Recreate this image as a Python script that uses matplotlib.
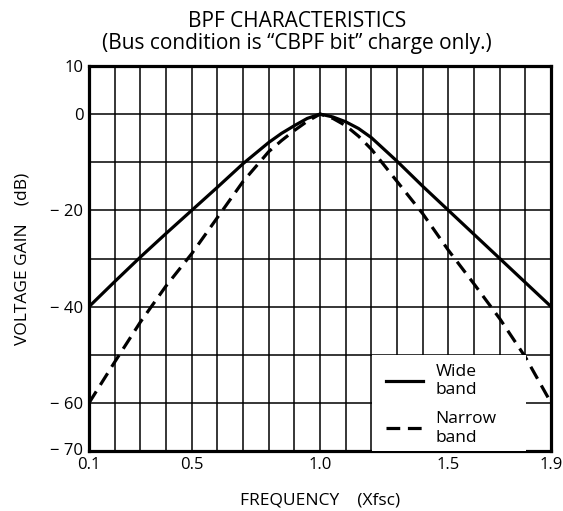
import matplotlib.pyplot as plt
import matplotlib.transforms as mtransforms
from matplotlib.patches import Rectangle

plt.rcParams['font.family'] = ['Open Sans', 'DejaVu Sans']
plt.rcParams['font.weight'] = 'medium'

# frequency (x fsc)
freq = [0.1, 0.2, 0.3, 0.4, 0.5, 0.6, 0.7, 0.8, 0.85, 0.9, 0.95, 1.0,
        1.05, 1.1, 1.15, 1.2, 1.3, 1.4, 1.5, 1.6, 1.7, 1.8, 1.9]
# gain in dB
wide = [-40, -34.8, -29.7, -24.8, -20, -15.2, -10.3, -5.9, -4.0, -2.4, -0.9, 0,
        -0.6, -1.6, -3.0, -4.9, -9.8, -15, -20, -25, -30, -35, -40]
narrow = [-60, -51.5, -43.2, -35.7, -29, -21.5, -14, -7.8, -5.5, -3.4, -1.5, 0,
          -0.9, -2.4, -4.6, -7.3, -14, -20.7, -28.3, -35.3, -42.5, -50.5, -60]

yticks = [10, 0, -20, -40, -60, -70]
ytick_labels = ['10', '0', '\u2212 20', '\u2212 40', '\u2212 60', '\u2212 70']
xticks = [0.1, 0.5, 1.0, 1.5, 1.9]
xtick_labels = ['0.1', '0.5', '1.0', '1.5', '1.9']

fig = plt.figure(figsize=(5.63, 5.11), dpi=100)
ax = fig.add_axes([0.158, 0.117, 0.821, 0.754])

# grid
for i in range(19):
    ax.axvline(0.1 + 0.1 * i, color='black', lw=1.1, zorder=1)
for v in range(-60, 10, 10):
    ax.axhline(v, color='black', lw=1.1, zorder=1)

ax.plot(freq, wide, color='black', lw=2.3, label='Wide\nband', zorder=3)
ax.plot(freq, narrow, color='black', lw=2.3, ls=(0, (4.3, 2.4)), label='Narrow\nband', zorder=3)

ax.set_xlim(0.1, 1.9)
ax.set_ylim(-70, 10)
ax.set_xticks(xticks)
ax.set_xticklabels(xtick_labels)
ax.set_yticks(yticks)
ax.set_yticklabels(ytick_labels)
ax.tick_params(length=0, labelsize=12, pad=4)
# nudge the -70 label up a little, as in the original
lab70 = ax.get_yticklabels()[-1]
lab70.set_transform(lab70.get_transform() + mtransforms.ScaledTranslation(0, 1.5 / 72, fig.dpi_scale_trans))
for s in ax.spines.values():
    s.set_linewidth(2.3)

# white box behind the legend, blanking the grid
ax.add_patch(Rectangle((0.613, 0.0), 0.333, 0.249, transform=ax.transAxes,
                       facecolor='white', edgecolor='none', zorder=4))
leg = ax.legend(loc='upper left', bbox_to_anchor=(0.643, 0.227), frameon=False,
                fontsize=12.5, handlelength=2.1, labelspacing=0.75,
                borderpad=0.0, handletextpad=0.75, borderaxespad=0.0)
leg.set_zorder(5)

ax.set_title('BPF CHARACTERISTICS\n(Bus condition is \u201cCBPF bit\u201d charge only.)',
             fontsize=15, pad=12, linespacing=1.05, x=0.45)
ax.set_xlabel('FREQUENCY    (Xfsc)', fontsize=12.5, labelpad=14)
ax.set_ylabel('VOLTAGE GAIN    (dB)', fontsize=12.5, labelpad=14)

fig.savefig('out.png', dpi=100)
